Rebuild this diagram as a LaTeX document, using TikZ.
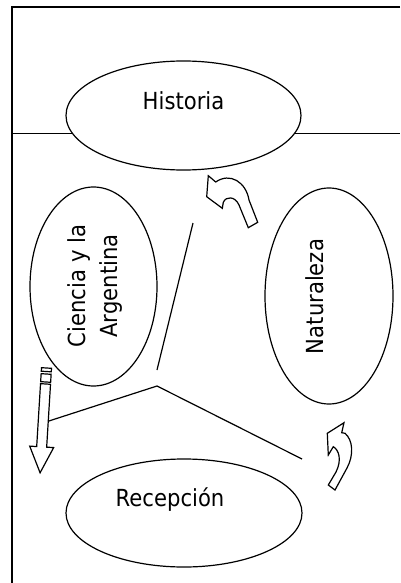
\documentclass[tikz,border=0pt]{standalone}
\usepackage{fontspec}
\setmainfont{DejaVu Sans}[FakeStretch=0.9]
\usetikzlibrary{shapes.geometric}

\begin{document}
\begin{tikzpicture}[x=1pt,y=-1pt,line width=1.2pt,
  bubble/.style={draw,ellipse,fill=white,inner sep=0pt},
  lbl/.style={font=\fontsize{23.5}{32}\selectfont,inner sep=0pt,align=center},
  blockarrow/.style={draw,fill=white,line join=miter}]
\useasboundingbox (0,0) rectangle (400,583);

\draw[line width=1.8pt] (400,7) -- (12,7) -- (12,583);
\draw (12,133.5) -- (400,133.5);

\node[bubble,minimum width=235,minimum height=109] (hist) at (183.5,115.5) {};
\node[bubble,minimum width=127,minimum height=199] (cien) at (93.5,286.5) {};
\node[bubble,minimum width=128,minimum height=216] (natu) at (329,296) {};
\node[bubble,minimum width=236,minimum height=108] (rece) at (184,513) {};

\node[lbl,anchor=base] (histtext) at (183.5,110) {Historia};
\node[lbl,rotate=90] (cientext) at (95,286) {Ciencia y la\\Argentina};
\node[lbl,rotate=90,anchor=base] (natutext) at (323,296.5) {Naturaleza};
\node[lbl,anchor=base] (recetext) at (170,506) {Recepción};

\coordinate (sa) at (193,223);
\coordinate (sb) at (157,370);
\coordinate (pa) at (157,386);
\coordinate (pb) at (302,459);
\draw (sa) -- (sb);

\begin{scope}[shift={(46.5,368)},rotate=-3.5]
\draw[blockarrow] (-5,0) rectangle (5,3.5);
\draw[blockarrow] (-5,6) rectangle (5,14);
\draw[blockarrow] (-5,16) -- (5,16) -- (5,79) -- (12,79) -- (0,105) -- (-12,79) -- (-5,79) -- cycle;
\coordinate (pencil) at (5,53);
\end{scope}
\draw (pencil) -- (pa) -- (pb);

\draw[blockarrow] (208.3,175.7) -- (215.7,182) .. controls (230,172) and (246,182) .. (249,200)
  -- (257.7,222.3) -- (248.3,227.7) -- (239,205) .. controls (235,196) and (226,196) .. (223.3,202.3)
  -- (222.3,208.3) -- (206.7,196.7) -- cycle;

\draw[blockarrow] (344,422.7) -- (327.3,433.3) -- (328.3,455) -- (333.3,446.7)
  .. controls (339,450) and (342,460) .. (336,472) -- (328.3,485) -- (335,490) -- (347,468)
  .. controls (354,455) and (353,440) .. (345,433.3) -- (341.7,432.7) -- cycle;
\end{tikzpicture}
\end{document}
